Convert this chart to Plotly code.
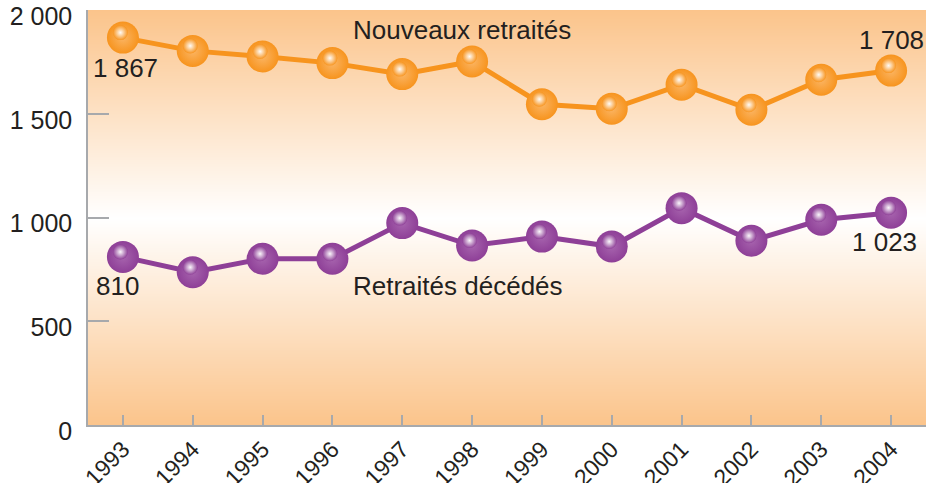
import plotly.graph_objects as go

years = [1993, 1994, 1995, 1996, 1997, 1998, 1999, 2000, 2001, 2002, 2003, 2004]
nouveaux = [1867, 1803, 1776, 1744, 1691, 1752, 1546, 1524, 1640, 1519, 1664, 1708]
decedes = [810, 736, 801, 801, 973, 865, 908, 860, 1045, 888, 989, 1023]
ytick_vals = [0, 500, 1000, 1500, 2000]
ytick_text = ["0", "500", "1 000", "1 500", "2 000"]

ORANGE = "#F7941E"
PURPLE = "#8E3F97"
TXT = "#231F20"
AX = "#A7A9AC"
FONT = "Liberation Sans, Arial, sans-serif"

X0, X1 = 1992.5, 2004.5
Y0, Y1 = 0, 2000
PX_X = 838 / (X1 - X0)
PX_Y = 415 / (Y1 - Y0)

fig = go.Figure()

# background gradient
fig.add_trace(go.Heatmap(
    x=[X0, X1], y=[0, 1000, 2000], z=[[0, 0], [1, 1], [0, 0]],
    zsmooth="best", showscale=False, hoverinfo="skip",
    colorscale=[[0, "#FBC48B"], [1, "#FFFFFF"]], zmin=0, zmax=1,
))

for vals, col, light in [(nouveaux, ORANGE, "#FBB564"), (decedes, PURPLE, "#A764AE")]:
    fig.add_trace(go.Scatter(
        x=years, y=vals, mode="lines+markers",
        line=dict(color=col, width=5),
        marker=dict(size=32, color=col, gradient=dict(type="radial", color=light),
                    line=dict(width=0)),
        hoverinfo="skip", showlegend=False,
    ))
    # specular highlight, drawn on slightly shifted overlay axes
    fig.add_trace(go.Scatter(
        x=years, y=vals, mode="markers", xaxis="x2", yaxis="y2",
        marker=dict(size=15, color=col, opacity=0.95,
                    gradient=dict(type="radial", color="#FFFFFF"), line=dict(width=0)),
        hoverinfo="skip", showlegend=False,
    ))

dx, dy = 2.5, 5
fig.update_layout(
    width=928, height=483,
    margin=dict(l=88, r=2, t=10, b=58),
    paper_bgcolor="white", plot_bgcolor="white",
    font=dict(family=FONT, size=25, color=TXT),
    xaxis=dict(range=[X0, X1], tickvals=years, ticktext=[str(y) for y in years],
               tickangle=-45, ticks="inside", ticklen=10, tickcolor=AX, tickwidth=1.5,
               showline=True, linecolor=AX, linewidth=1.5, showgrid=False, zeroline=False,
               automargin=False, ticklabeloverflow="allow",
               tickfont=dict(family=FONT, size=23, color=TXT)),
    yaxis=dict(range=[Y0, Y1], tickvals=ytick_vals, ticktext=ytick_text,
               ticks="inside", ticklen=21, tickcolor=AX, tickwidth=1.5,
               showline=True, linecolor=AX, linewidth=1.5, showgrid=False, zeroline=False,
               ticklabelshift=6, ticklabelstandoff=9, automargin=False,
               ticklabeloverflow="allow",
               tickfont=dict(family=FONT, size=25, color=TXT)),
    xaxis2=dict(overlaying="x", range=[X0 + dx / PX_X, X1 + dx / PX_X], visible=False),
    yaxis2=dict(overlaying="y", range=[Y0 - dy / PX_Y, Y1 - dy / PX_Y], visible=False),
)

ann = [
    dict(x=1993, y=1867, text="1 867", xshift=3, yshift=-30),
    dict(x=2004, y=1708, text="1 708", xshift=0, yshift=31),
    dict(x=1993, y=810, text="810", xshift=-5, yshift=-29),
    dict(x=2004, y=1023, text="1 023", xshift=-7, yshift=-29),
    dict(x=1997.85, y=1905, text="Nouveaux retraités"),
    dict(x=1997.8, y=670, text="Retraités décédés"),
]
for a in ann:
    fig.add_annotation(**a, showarrow=False, xref="x", yref="y",
                       font=dict(family=FONT, size=26, color=TXT))

fig.write_html("out.html", config={"displayModeBar": False},
               post_script="document.body.style.margin='0';document.body.style.overflow='hidden';")
